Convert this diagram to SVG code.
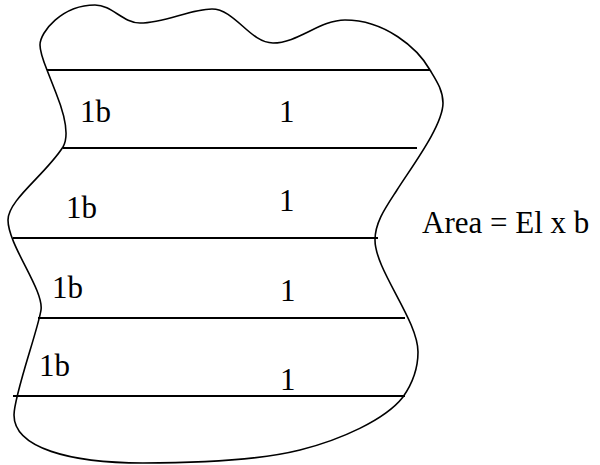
<svg xmlns="http://www.w3.org/2000/svg" width="600" height="465" viewBox="0 0 600 465">
<style>
.outline{fill:none;stroke:#000;stroke-width:1.6}
.strip{stroke:#000;stroke-width:2}
text{font-family:"Liberation Serif","Times New Roman",serif;font-size:31px;fill:#000}
</style>
<rect width="600" height="465" fill="#fff"/>
<g id="blob">
<path class="outline" d="M47,70 C44,62.5 40,51 40,45 C40,32 62,5 95,5 C112,5 123,23 140,23 C165,23 190,9 212,9 C235,9 250,43 273,43 C298,43 320,20 345,20 C385,20 417.5,48 430,70 C436,80 443,90 443,103 C443,125 413,165 397,190 C386,207 375,222 375,240 C375,270 418,320 418,352 C418,372 410,387 403,397 C385,420 340,440 300,450 C260,460 200,463 143,463 C70,463 14,448 14,415 C14,395 38,330 41,310 C44,290 8,245 8,220 C8,200 45,175 63,147 C71,133 62,108 56,93 Z"/>
</g>
<g id="strips">
<line class="strip" x1="47" y1="70" x2="430" y2="70"/>
<line class="strip" x1="63" y1="148" x2="417" y2="148"/>
<line class="strip" x1="13" y1="238" x2="378" y2="238"/>
<line class="strip" x1="38" y1="318" x2="405" y2="318"/>
<line class="strip" x1="13" y1="396" x2="405" y2="396"/>
</g>
<g id="labels">
<text x="80" y="122">1b</text>
<text x="279" y="122">1</text>
<text x="66" y="218">1b</text>
<text x="279" y="211">1</text>
<text x="52" y="298">1b</text>
<text x="280" y="301">1</text>
<text x="39" y="376">1b</text>
<text x="280" y="390">1</text>
<text x="422" y="233">Area = El x b</text>
</g>
</svg>
